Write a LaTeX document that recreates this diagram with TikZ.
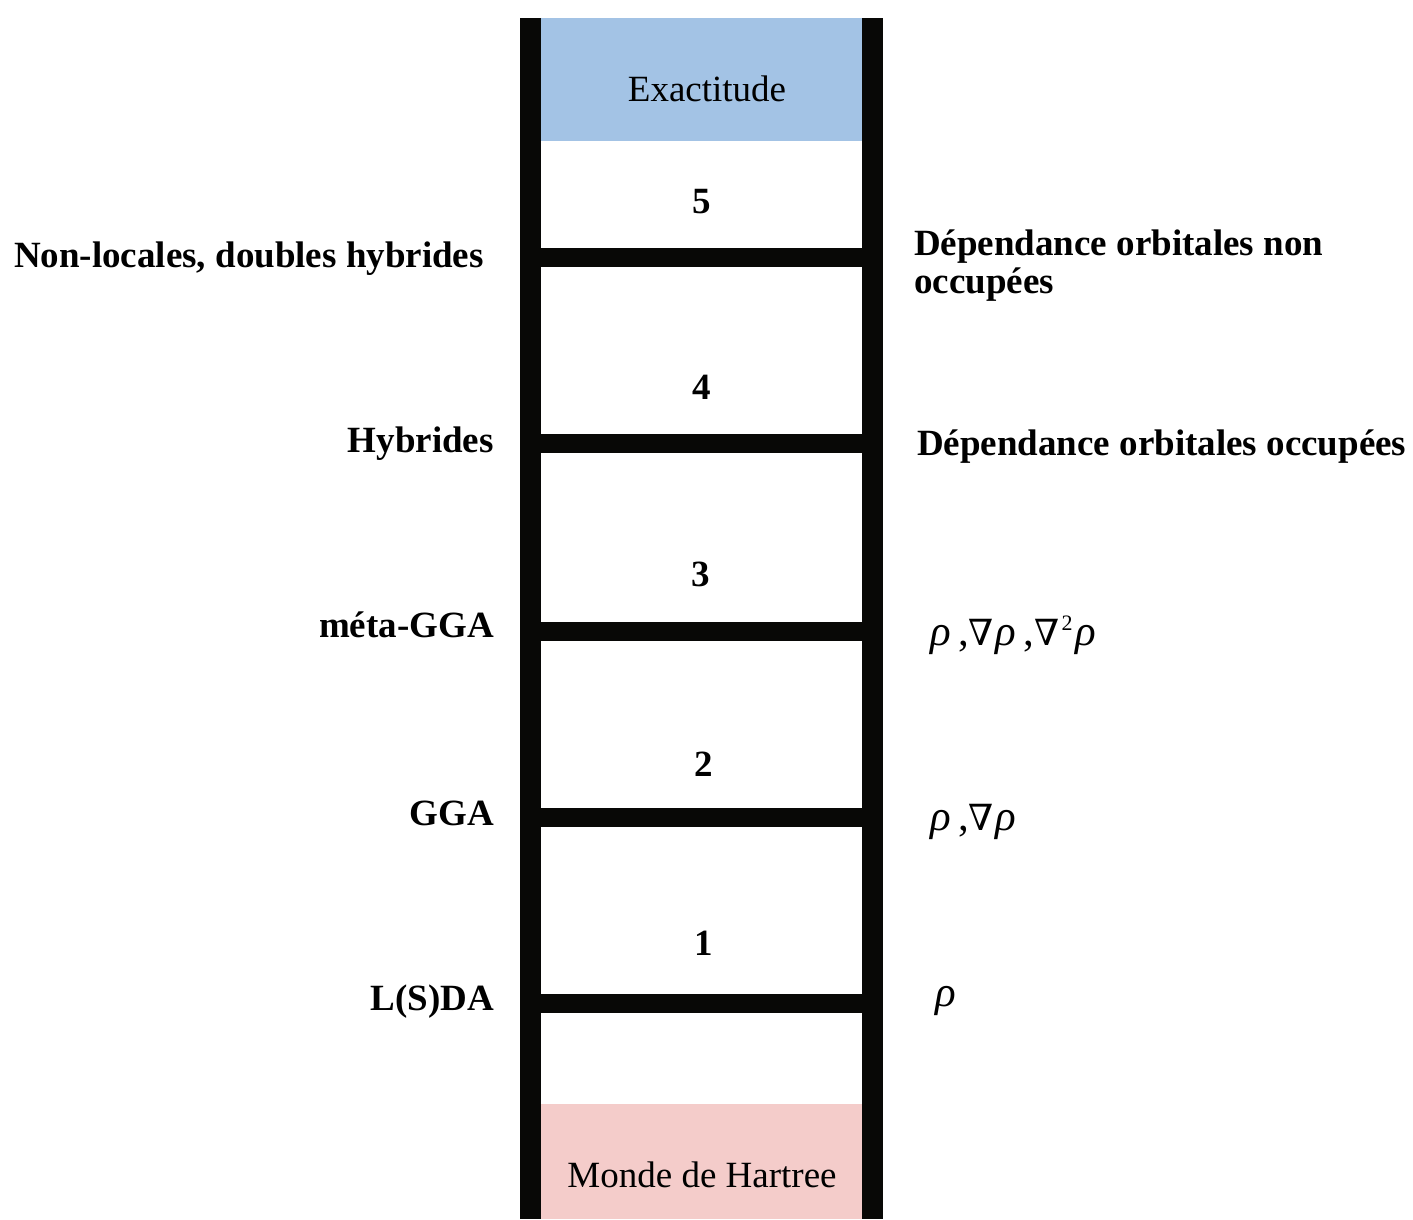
\documentclass[tikz,border=0pt]{standalone}
\usepackage{fontspec}
\setmainfont{Liberation Serif}
\newfontfamily\nablafont{DejaVu Serif}
\newcommand{\mynabla}{{\nablafont\fontsize{36}{40}\selectfont ∇}\kern2pt}
\newcommand{\mysq}{\raisebox{15pt}{\fontsize{22}{24}\selectfont 2}\kern3pt}
\begin{document}
\begin{tikzpicture}[x=1pt,y=-1pt,
  lbl/.style={inner sep=0pt,font=\fontsize{37}{44}\selectfont\bfseries},
  plain/.style={inner sep=0pt,font=\fontsize{37}{44}\selectfont},
  mth/.style={inner sep=0pt,font=\fontsize{43}{48}\selectfont},
  rail/.style={fill=railc},
]
\definecolor{railc}{HTML}{080806}
\definecolor{topc}{HTML}{A3C3E5}
\definecolor{botc}{HTML}{F4CCCA}
\useasboundingbox[fill=white] (0,0) rectangle (1413,1219);
% coloured end blocks
\fill[topc] (541,18) rectangle (862,141);
\fill[botc] (541,1104) rectangle (862,1219);
% rails
\fill[rail] (520,18) rectangle (541,1219);
\fill[rail] (862,18) rectangle (883,1219);
% rungs
\foreach \yc in {257.5,443.5,631.5,817,1003.5}
  \fill[rail] (541,\yc-9.5) rectangle (862,\yc+9.5);
% texts in blocks
\node[plain,anchor=base] (exact) at (707,101) {Exactitude};
\node[plain,anchor=base] (hartree) at (702,1187) {Monde de Hartree};
% rung numbers
\node[lbl,anchor=base] (n5) at (702,213) {5};
\node[lbl,anchor=base] (n4) at (702,399) {4};
\node[lbl,anchor=base] (n3) at (701,586) {3};
\node[lbl,anchor=base] (n2) at (704,776) {2};
\node[lbl,anchor=base] (n1) at (704,955) {1};
% left labels
\node[lbl,anchor=base east] (l5) at (484,267) {Non-locales, doubles hybrides};
\node[lbl,anchor=base east] (l4) at (494,452) {Hybrides};
\node[lbl,anchor=base east] (l3) at (494,637) {méta-GGA};
\node[lbl,anchor=base east] (l2) at (494,825) {GGA};
\node[lbl,anchor=base east] (l1) at (494,1010) {L(S)DA};
% right labels
\node[lbl,anchor=base west] (r5a) at (914,255) {Dépendance orbitales non};
\node[lbl,anchor=base west] (r5b) at (914,293) {occupées};
\node[lbl,anchor=base west] (r4) at (917,455) {Dépendance orbitales occupées};
\node[mth,anchor=base west] (r3) at (930,645) {\textit{ρ}\,,\mynabla\textit{ρ}\,,\mynabla\mysq\textit{ρ}};
\node[mth,anchor=base west] (r2) at (930,830) {\textit{ρ}\,,\mynabla\textit{ρ}};
\node[mth,anchor=base west] (r1) at (935,1006) {\textit{ρ}};
\end{tikzpicture}
\end{document}
